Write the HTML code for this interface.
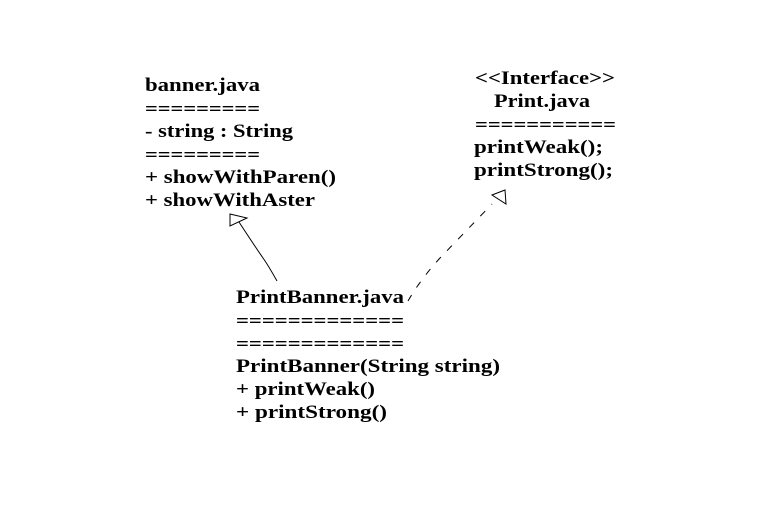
<!DOCTYPE html>
<html><head><style>
html,body{margin:0;padding:0;background:#fff;}
svg text{font-family:"Liberation Serif",serif;font-weight:bold;font-size:19px;fill:#000;}
</style></head><body>
<svg width="760" height="507" viewBox="0 0 760 507" xmlns="http://www.w3.org/2000/svg">
<rect width="760" height="507" fill="#fff"/>
<g>
<text x="145" y="91" textLength="115" lengthAdjust="spacingAndGlyphs">banner.java</text>
<text x="145" y="115" textLength="115" lengthAdjust="spacingAndGlyphs">=========</text>
<text x="145" y="137" textLength="148" lengthAdjust="spacingAndGlyphs">- string : String</text>
<text x="145" y="161" textLength="115" lengthAdjust="spacingAndGlyphs">=========</text>
<text x="145" y="183" textLength="191" lengthAdjust="spacingAndGlyphs">+ showWithParen()</text>
<text x="145" y="206" textLength="170" lengthAdjust="spacingAndGlyphs">+ showWithAster</text>

<text x="475" y="84" textLength="140" lengthAdjust="spacingAndGlyphs">&lt;&lt;Interface&gt;&gt;</text>
<text x="494" y="107" textLength="96" lengthAdjust="spacingAndGlyphs">Print.java</text>
<text x="475" y="131" textLength="141" lengthAdjust="spacingAndGlyphs">===========</text>
<text x="474" y="153" textLength="129" lengthAdjust="spacingAndGlyphs">printWeak();</text>
<text x="474" y="176" textLength="139" lengthAdjust="spacingAndGlyphs">printStrong();</text>

<text x="236" y="303" textLength="168" lengthAdjust="spacingAndGlyphs">PrintBanner.java</text>
<text x="236" y="327" textLength="168" lengthAdjust="spacingAndGlyphs">=============</text>
<text x="236" y="350" textLength="168" lengthAdjust="spacingAndGlyphs">=============</text>
<text x="236" y="372" textLength="264" lengthAdjust="spacingAndGlyphs">PrintBanner(String string)</text>
<text x="236" y="395" textLength="139" lengthAdjust="spacingAndGlyphs">+ printWeak()</text>
<text x="236" y="418" textLength="151" lengthAdjust="spacingAndGlyphs">+ printStrong()</text>
</g>
<path d="M277,281 Q268,265 263,258 Q252,242 239,222" fill="none" stroke="#000" stroke-width="1"/>
<polygon points="230,214 247,218 230,226" fill="#fff" stroke="#000" stroke-width="1"/>
<path d="M408,301 Q420,280 440,258 Q465,232 492,204" fill="none" stroke="#000" stroke-width="1" stroke-dasharray="7,9"/>
<polygon points="492,195 505,190 506,204" fill="#fff" stroke="#000" stroke-width="1"/>
</svg>
</body></html>
